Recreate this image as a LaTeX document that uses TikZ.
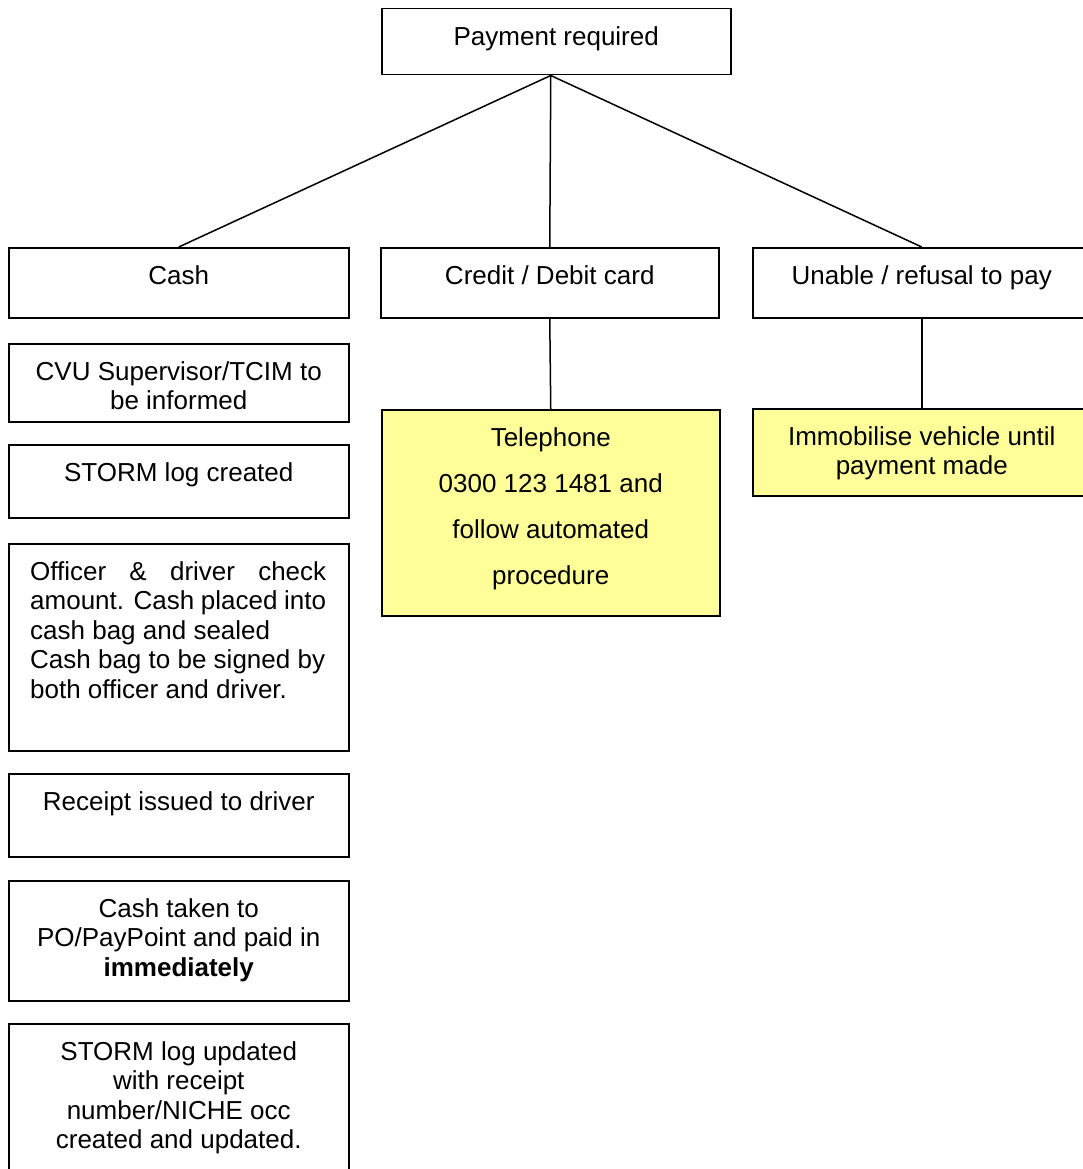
\documentclass[tikz,border=0pt]{standalone}
\usepackage{fontspec}
\setmainfont{Liberation Sans}
\definecolor{hl}{HTML}{FFFF99}
\begin{document}
\begin{tikzpicture}[x=1pt,y=-1pt,
  box/.style={draw=black, line width=1.5pt, anchor=north west, inner sep=0pt},
  ybox/.style={box, fill=hl},
  lbl/.style={anchor=north, inner sep=0pt, align=center, font=\fontsize{26}{29.5}\selectfont},
  wide/.style={lbl, font=\fontsize{26}{46}\selectfont},
  link/.style={draw=black, line width=1.5pt}]
\clip (0,0) rectangle (1083,1169);
% boxes
\node[box, minimum width=349pt, minimum height=66pt] (pay) at (381,8) {};
\node[box, minimum width=340pt, minimum height=70pt] (cash) at (8,247) {};
\node[box, minimum width=338pt, minimum height=70pt] (cred) at (380,247) {};
\node[box, minimum width=338pt, minimum height=70pt] (unab) at (752,247) {};
\node[box, minimum width=340pt, minimum height=78pt] (cvu) at (8,343) {};
\node[box, minimum width=340pt, minimum height=73pt] (stc) at (8,444) {};
\node[box, minimum width=340pt, minimum height=207pt] (off) at (8,543) {};
\node[box, minimum width=340pt, minimum height=83pt] (rec) at (8,773) {};
\node[box, minimum width=340pt, minimum height=120pt] (tak) at (8,880) {};
\node[box, minimum width=340pt, minimum height=170pt] (stu) at (8,1023) {};
\node[ybox, minimum width=338pt, minimum height=206pt] (tel) at (381,409) {};
\node[ybox, minimum width=338pt, minimum height=87pt] (imm) at (752,408) {};
% texts
\node[lbl] (payt) at ([yshift=-18pt]pay.north) {Payment required};
\node[lbl] (casht) at ([yshift=-18pt]cash.north) {Cash};
\node[lbl] (credt) at ([yshift=-18pt]cred.north) {Credit / Debit card};
\node[lbl] (unabt) at ([yshift=-18pt]unab.north) {Unable / refusal to pay};
\node[lbl] (cvut) at ([yshift=-18pt]cvu.north) {CVU Supervisor/TCIM to\\be informed};
\node[lbl] (stct) at ([yshift=-18pt]stc.north) {STORM log created};
\node[lbl, anchor=north west, align=left] (offt) at (30,561)
  {\makebox[296pt][s]{Officer \& driver check}\\
   \makebox[296pt][s]{amount. Cash placed into}\\
   cash bag and sealed\\
   Cash bag to be signed by\\
   both officer and driver.};
\node[lbl] (rect) at ([yshift=-18pt]rec.north) {Receipt issued to driver};
\node[lbl] (takt) at ([yshift=-18pt]tak.north) {Cash taken to\\PO/PayPoint and paid in\\\textbf{immediately}};
\node[lbl] (stut) at ([yshift=-18pt]stu.north) {STORM log updated\\with receipt\\number/NICHE occ\\created and updated.};
\node[wide] (telt) at ([yshift=-18pt]tel.north) {Telephone\\0300 123 1481 and\\follow automated\\procedure};
\node[lbl] (immt) at ([yshift=-18pt]imm.north) {Immobilise vehicle until\\payment made};
% connectors
\coordinate (hub) at ([xshift=-5.5pt]pay.south);
\draw[link] (hub) -- (cash.north);
\draw[link] (hub) -- (cred.north);
\draw[link] (hub) -- (unab.north);
\draw[link] (cred.south) -- (tel.north);
\draw[link] (unab.south) -- (imm.north);
\end{tikzpicture}
\end{document}
